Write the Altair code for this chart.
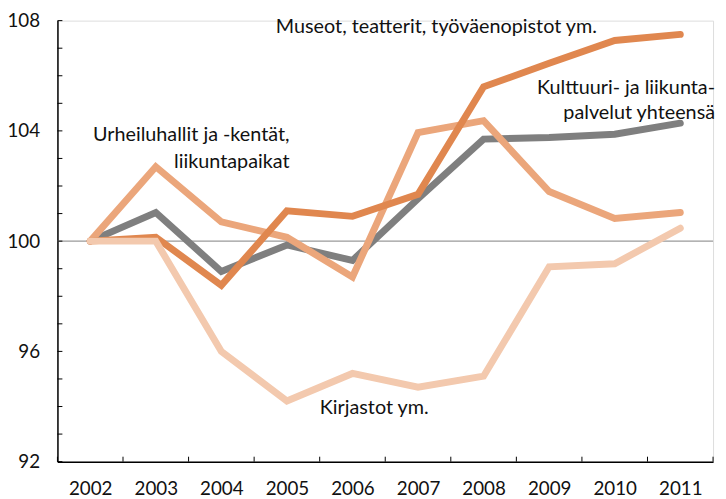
import altair as alt
import pandas as pd

years = list(range(2002, 2012))
total = [100, 101.04, 98.9, 99.86, 99.3, 101.54, 103.7, 103.76, 103.88, 104.28]
museums = [100, 100.14, 98.4, 101.1, 100.9, 101.7, 105.6, 106.45, 107.28, 107.5]
sports = [100, 102.7, 100.7, 100.14, 98.7, 103.94, 104.37, 101.8, 100.82, 101.04]
libraries = [100, 100.0, 96.0, 94.2, 95.2, 94.7, 95.1, 99.07, 99.18, 100.47]

y_tick_values = list(range(92, 109))
y_label_values = [92, 96, 100, 104, 108]
x_bounds = [2001.5, 2002.5, 2003.5, 2004.5, 2005.5, 2006.5, 2007.5, 2008.5, 2009.5, 2010.5, 2011.5]

ann_text = ["Museot, teatterit, työväenopistot ym.", "Kulttuuri- ja liikunta-", "palvelut yhteensä",
            "Urheiluhallit ja -kentät,", "liikuntapaikat", "Kirjastot ym."]
ann_x = [2007.28, 2011.53, 2011.53, 2005.04, 2005.04, 2005.5]
ann_y = [107.75, 105.56, 104.65, 103.84, 102.88, 93.93]
ann_align = ["center", "right", "right", "right", "right", "left"]

W, H = 663, 446
FONT = "Lato"

xscale = alt.Scale(domain=[2001.5, 2011.5], nice=False, zero=False)
yscale = alt.Scale(domain=[92, 108], nice=False, zero=False)

def series_layer(vals, color, with_axes=False):
    df = pd.DataFrame({"year": years, "value": vals})
    if with_axes:
        x = alt.X("year:Q", scale=xscale,
                  axis=alt.Axis(values=years, format="d", tickSize=0, labelPadding=18,
                                domainColor="#000", domainWidth=1.5, grid=False,
                                labelFont=FONT, labelFontSize=19, labelColor="#111", title=None))
        y = alt.Y("value:Q", scale=yscale,
                  axis=alt.Axis(values=y_label_values, tickSize=0, labelPadding=18,
                                domainColor="#000", domainWidth=1.5, grid=False,
                                labelFont=FONT, labelFontSize=19, labelColor="#111", title=None))
    else:
        x = alt.X("year:Q", scale=xscale)
        y = alt.Y("value:Q", scale=yscale)
    return alt.Chart(df).mark_line(color=color, strokeWidth=7, strokeCap="round",
                                   strokeJoin="miter").encode(x=x, y=y)

grid100 = alt.Chart(pd.DataFrame({"v": [100]})).mark_rule(color="#9a9a9a", strokeWidth=1.3).encode(
    y=alt.Y("v:Q", scale=yscale))

yticks = alt.Chart(pd.DataFrame({"v": y_tick_values})).mark_rule(color="#000", strokeWidth=1).encode(
    y=alt.Y("v:Q", scale=yscale), x=alt.value(0), x2=alt.value(5))

xticks = alt.Chart(pd.DataFrame({"b": x_bounds})).mark_rule(color="#000", strokeWidth=1).encode(
    x=alt.X("b:Q", scale=xscale), y=alt.value(H - 5), y2=alt.value(H))

ann_df = pd.DataFrame({"t": ann_text, "x": ann_x, "y": ann_y, "a": ann_align})
texts = []
for al in ["center", "right", "left"]:
    texts.append(
        alt.Chart(ann_df).transform_filter(alt.datum.a == al).mark_text(
            font=FONT, fontSize=20, color="#111", align=al, baseline="middle").encode(
            x=alt.X("x:Q", scale=xscale), y=alt.Y("y:Q", scale=yscale), text="t:N")
    )

chart = alt.layer(
    grid100,
    series_layer(total, "#7f7f7f", with_axes=True),
    series_layer(sports, "#eba67b"),
    series_layer(museums, "#e0874f"),
    series_layer(libraries, "#f3c9ae"),
    yticks, xticks, *texts
).properties(
    width=W, height=H,
    autosize=alt.AutoSizeParams(type="none"),
    padding={"left": 50, "top": 10, "right": 5, "bottom": 35}
).configure_view(stroke=None).configure(background="white")

chart.save("out.html", embed_options={"renderer": "svg", "actions": False})
